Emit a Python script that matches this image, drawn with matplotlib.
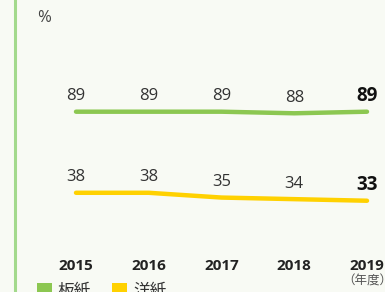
import matplotlib
matplotlib.use("Agg")
import matplotlib.pyplot as plt
from matplotlib.patches import Patch
from matplotlib.lines import Line2D

plt.rcParams['font.family'] = ['Open Sans', 'Noto Sans CJK JP', 'DejaVu Sans']

years = ['2015', '2016', '2017', '2018', '2019']
paperboard = [89, 89, 89, 88, 89]   # 板紙
paper = [38, 38, 35, 34, 33]        # 洋紙
series_names = ['板紙', '洋紙']
unit_label = '%'
year_unit = '（年度）'

green = '#8cc751'
yellow = '#ffd100'
bg = '#f8faf4'

W, H = 385, 292
fig = plt.figure(figsize=(W / 100, H / 100), dpi=100, facecolor=bg)
ax = fig.add_axes([0, 0, 1, 1])
ax.set_facecolor(bg)

x = list(range(len(years)))
ax.plot(x, paperboard, color=green, lw=3.2, solid_capstyle='round', solid_joinstyle='round')
ax.plot(x, paper, color=yellow, lw=3.2, solid_capstyle='round', solid_joinstyle='round')

ax.set_xlim(-1.0447, 4.2474)
ax.set_ylim(-24.4, 159.25)
ax.axis('off')

for series in (paperboard, paper):
    for i, v in enumerate(series):
        last = i == len(series) - 1
        ax.annotate(str(v), (i, v), xytext=(0, 15.5), textcoords='offset pixels',
                    ha='center', va='center',
                    fontsize=13.5 if last else 12,
                    fontweight='bold' if last else 'normal',
                    color='#111111' if last else '#333333')

for i, y in enumerate(years):
    ax.text(i, 0.089, y, transform=ax.get_xaxis_transform(), ha='center', va='center',
            fontsize=11, fontweight='bold', color='#222222')
ax.text(len(years) - 1, 0.036, year_unit, transform=ax.get_xaxis_transform(),
        ha='center', va='center', fontsize=9, color='#555555')

fig.text(44 / W, 1 - 18 / H, unit_label, ha='center', va='center', fontsize=12, color='#444444')

# left accent line
fig.add_artist(Line2D([14.5 / W, 14.5 / W], [0, 1], color='#a3d98c', lw=2.2))

handles = [Patch(facecolor=green, edgecolor='none'), Patch(facecolor=yellow, edgecolor='none')]
fig.legend(handles, series_names, loc='upper left', bbox_to_anchor=(37 / W, 1 - 283 / H),
           ncol=2, frameon=False, fontsize=12, handlelength=0.9, handleheight=0.9,
           handletextpad=0.36, columnspacing=1.25, borderaxespad=0, borderpad=0,
           labelcolor='#333333')

fig.savefig('out.png', dpi=100, facecolor=bg)
